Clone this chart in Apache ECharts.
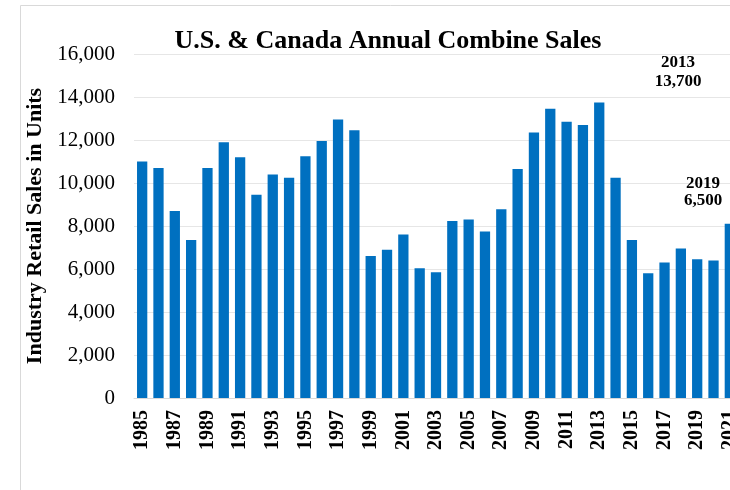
<!DOCTYPE html>
<html>
<head>
<meta charset="utf-8">
<script src="https://cdn.jsdelivr.net/npm/echarts@6/dist/echarts.min.js"></script>
<style>
html, body { margin: 0; padding: 0; overflow: hidden; background: #fff; }
#chartArea { width: 760px; height: 490px; }
</style>
</head>
<body>
<div id="chartArea"></div>
<script>
let years = ['1985', '1986', '1987', '1988', '1989', '1990', '1991', '1992', '1993', '1994',
    '1995', '1996', '1997', '1998', '1999', '2000', '2001', '2002', '2003', '2004',
    '2005', '2006', '2007', '2008', '2009', '2010', '2011', '2012', '2013', '2014',
    '2015', '2016', '2017', '2018', '2019', '2020', '2021'];
let sales = [11000, 10700, 8700, 7350, 10700, 11900, 11200, 9450, 10400, 10250,
    11250, 11950, 12950, 12450, 6600, 6900, 7600, 6030, 5850, 8230,
    8300, 7750, 8780, 10650, 12350, 13450, 12850, 12700, 13750, 10250,
    7350, 5800, 6300, 6950, 6450, 6400, 8100];
let callouts = [['2013', '13,700'], ['2019', '6,500']];

let barColor = '#0070c0';
let serif = '"Liberation Serif", "Times New Roman", serif';

let myChart = echarts.init(document.getElementById('chartArea'));

function calloutText(txt, x, y) {
    return {
        type: 'text', x: x, y: y, z: 100,
        style: {text: txt, align: 'center', verticalAlign: 'middle',
            font: 'bold 17px ' + serif, fill: '#000'}
    };
}

let option = {
    animation: false,
    title: {
        text: 'U.S. & Canada Annual Combine Sales',
        left: 383,
        top: 23,
        textAlign: 'center',
        textStyle: {fontFamily: serif, fontSize: 26, fontWeight: 'bold', color: '#000'}
    },
    graphic: [
        {
            type: 'rect',
            shape: {x: 20.5, y: 5.5, width: 800, height: 600},
            style: {fill: 'none', stroke: '#d9d9d9', lineWidth: 1},
            silent: true
        },
        calloutText(callouts[0][0], 678, 63),
        calloutText(callouts[0][1], 678, 82),
        calloutText(callouts[1][0], 703, 184),
        calloutText(callouts[1][1], 703, 201)
    ],
    grid: {left: 134, right: 22, top: 54, bottom: 92},
    xAxis: {
        type: 'category',
        data: years,
        axisLine: {lineStyle: {color: '#d9d9d9'}},
        axisTick: {show: false},
        axisLabel: {
            interval: 1,
            rotate: 90,
            margin: 12,
            fontFamily: serif,
            fontSize: 20,
            fontWeight: 'bold',
            color: '#000'
        }
    },
    yAxis: {
        type: 'value',
        min: 0,
        max: 16000,
        interval: 2000,
        name: 'Industry Retail Sales in Units',
        nameLocation: 'middle',
        nameGap: 86,
        nameTextStyle: {fontFamily: serif, fontSize: 22, fontWeight: 'bold', color: '#000'},
        axisLabel: {
            margin: 19,
            fontFamily: serif,
            fontSize: 21,
            color: '#000',
            formatter: function (v) {
                return v.toLocaleString('en-US');
            }
        },
        splitLine: {lineStyle: {color: '#e6e6e6'}}
    },
    series: [
        {
            type: 'bar',
            data: sales,
            barCategoryGap: '37%',
            itemStyle: {color: barColor}
        }
    ]
};

myChart.setOption(option);
</script>
</body>
</html>
